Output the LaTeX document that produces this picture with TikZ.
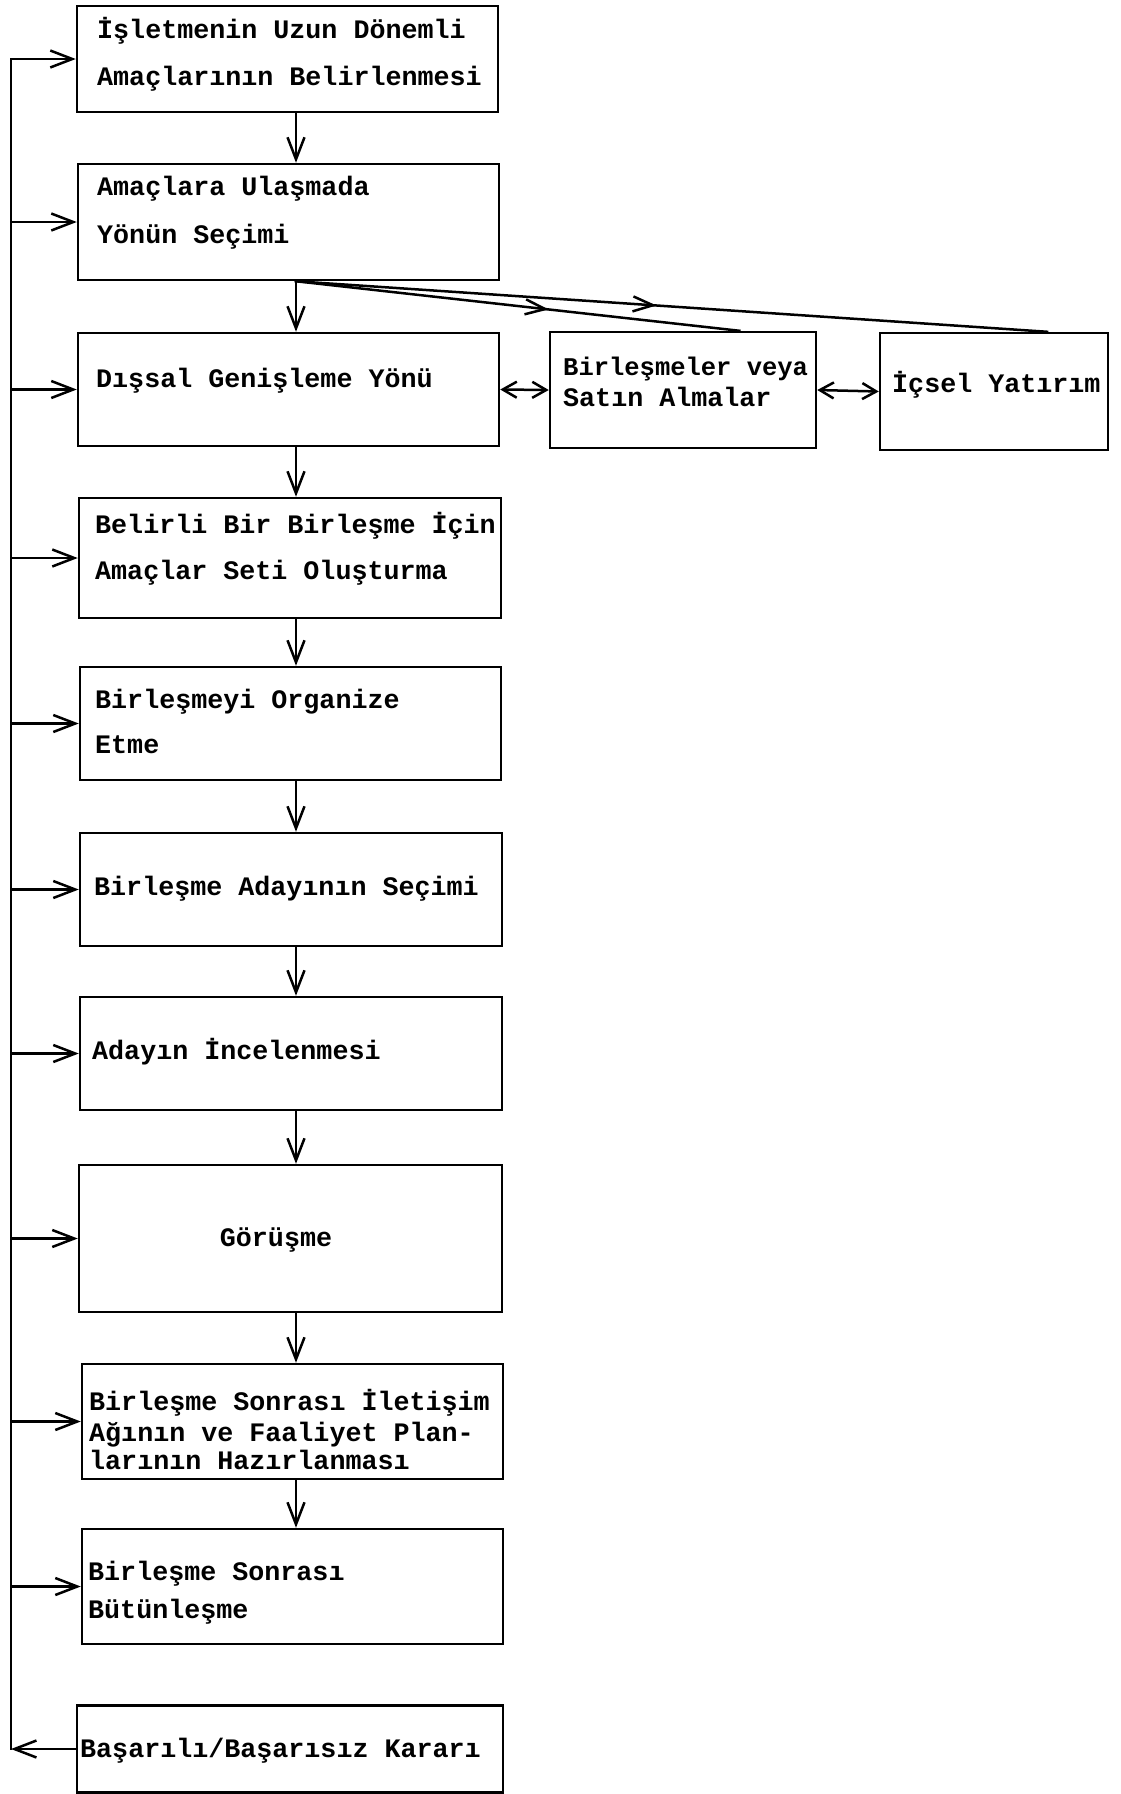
\documentclass[tikz,border=0pt]{standalone}
\usepackage{fontspec}
\setmainfont{Liberation Mono}
\usetikzlibrary{arrows.meta,calc,decorations.markings}
\begin{document}
\begin{tikzpicture}[x=1pt,y=-1pt,
  box/.style={draw, line width=2.5pt, rectangle, inner sep=0pt},
  txt/.style={anchor=base west, inner sep=0pt, font=\fontsize{26.7}{30}\selectfont\bfseries},
  ctxt/.style={anchor=base, inner sep=0pt, font=\fontsize{26.7}{30}\selectfont\bfseries},
  conn/.style={line width=2.5pt, line cap=rect},
  arr/.style={line width=2.5pt, -{Straight Barb[length=22pt,width=17pt]}},
  dbl/.style={line width=2.5pt, {Straight Barb[length=14pt,width=16pt]}-{Straight Barb[length=14pt,width=16pt]}},
  midarr/.style={decoration={markings, mark=at position #1 with {\arrow{Straight Barb[length=20pt,width=15pt]}}}, postaction=decorate}
]
\useasboundingbox (0,0) rectangle (1121,1794);
\fill[white] (0,0) rectangle (1121,1794);

% boxes
\node[box, minimum width=421pt, minimum height=106pt] (b1) at (287.5,59) {};
\node[box, minimum width=421pt, minimum height=116pt] (b2) at (288.5,222) {};
\node[box, minimum width=421pt, minimum height=113pt] (b3) at (288.5,389.5) {};
\node[box, minimum width=266pt, minimum height=116pt] (b4) at (683,390) {};
\node[box, minimum width=228pt, minimum height=117pt] (b5) at (994,391.5) {};
\node[box, minimum width=422pt, minimum height=120pt] (b6) at (290,558) {};
\node[box, minimum width=421pt, minimum height=113pt] (b7) at (290.5,723.5) {};
\node[box, minimum width=422pt, minimum height=113pt] (b8) at (291,889.5) {};
\node[box, minimum width=422pt, minimum height=113pt] (b9) at (291,1053.5) {};
\node[box, minimum width=423pt, minimum height=147pt] (b10) at (290.5,1238.5) {};
\node[box, minimum width=421pt, minimum height=115pt] (b11) at (292.5,1421.5) {};
\node[box, minimum width=421pt, minimum height=115pt] (b12) at (292.5,1586.5) {};
\node[box, minimum width=426pt, minimum height=87pt] (b13) at (290,1749) {};

% texts
\node[txt] (t1a) at (97,38) {İşletmenin Uzun Dönemli};
\node[txt] (t1b) at (97,85) {Amaçlarının Belirlenmesi};
\node[txt] (t2a) at (97,195) {Amaçlara Ulaşmada};
\node[txt] (t2b) at (97,243) {Yönün Seçimi};
\node[txt] (t3) at (96,387) {Dışsal Genişleme Yönü};
\node[txt, font=\fontsize{25.5}{30}\selectfont\bfseries] (t4a) at (563,375) {Birleşmeler veya};
\node[txt] (t4b) at (563,406) {Satın Almalar};
\node[txt] (t5) at (892,392) {İçsel Yatırım};
\node[txt] (t6a) at (95,533) {Belirli Bir Birleşme İçin};
\node[txt] (t6b) at (95,579) {Amaçlar Seti Oluşturma};
\node[txt] (t7a) at (95,708) {Birleşmeyi Organize};
\node[txt] (t7b) at (95,753) {Etme};
\node[txt] (t8) at (94,895) {Birleşme Adayının Seçimi};
\node[txt] (t9) at (92,1059) {Adayın İncelenmesi};
\node[ctxt] (t10) at (276,1246) {Görüşme};
\node[txt] (t11a) at (89,1410) {Birleşme Sonrası İletişim};
\node[txt] (t11b) at (89,1441) {Ağının ve Faaliyet Plan-};
\node[txt] (t11c) at (89,1469) {larının Hazırlanması};
\node[txt] (t12a) at (88,1580) {Birleşme Sonrası};
\node[txt] (t12b) at (88,1618) {Bütünleşme};
\node[txt] (t13) at (80,1757) {Başarılı/Başarısız Kararı};

% helper coordinates
\coordinate (ax) at (296,0);
\coordinate (lx) at (11,0);

% main chain
\draw[arr] (b1.south -| ax) -- (b2.north -| ax);
\draw[arr] (b2.south -| ax) -- (b3.north -| ax);
\draw[arr] (b3.south -| ax) -- (b6.north -| ax);
\draw[arr] (b6.south -| ax) -- (b7.north -| ax);
\draw[arr] (b7.south -| ax) -- (b8.north -| ax);
\draw[arr] (b8.south -| ax) -- (b9.north -| ax);
\draw[arr] (b9.south -| ax) -- (b10.north -| ax);
\draw[arr] (b10.south -| ax) -- (b11.north -| ax);
\draw[arr] (b11.south -| ax) -- (b12.north -| ax);

% branches
\draw[conn, midarr=0.57] (b2.south -| ax) -- ($(b4.north)!0.42!(b4.north east)$);
\draw[conn, midarr=0.48] (b2.south -| ax) -- ($(b5.north)!0.46!(b5.north east)$);
\draw[dbl] (b3.east) -- (b4.west);
\draw[dbl] (b4.east) -- (b5.west);

% feedback loop
\draw[conn] (b1.west -| lx) -- (b13.west -| lx);
\foreach \b in {b1,b2,b3,b6,b7,b8,b9,b10,b11,b12}
  \draw[arr] (\b.west -| lx) -- (\b.west);
\draw[arr] (b13.west) -- (b13.west -| lx);
\end{tikzpicture}
\end{document}
